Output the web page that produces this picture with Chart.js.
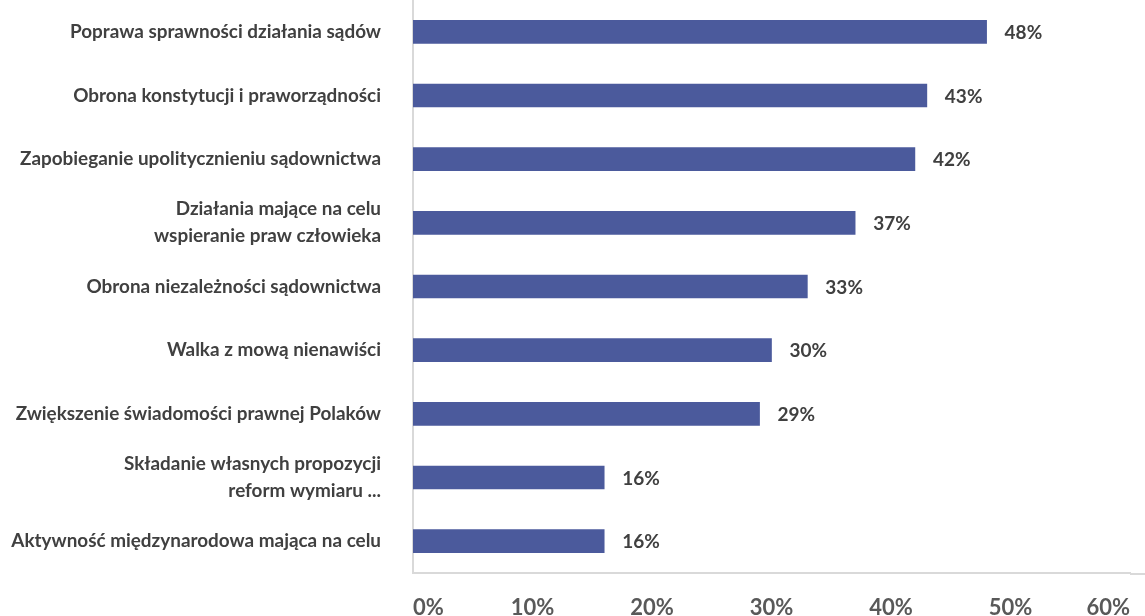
<!DOCTYPE html>
<html>
<head>
<meta charset="utf-8">
<script src="https://cdn.jsdelivr.net/npm/chart.js@4.4.1/dist/chart.umd.min.js"></script>
<style>
  html, body { margin: 0; padding: 0; background: #fff; }
  #wrap { width: 1145px; height: 616px; position: relative; }
</style>
</head>
<body>
<div id="wrap"><canvas id="chart"></canvas></div>
<script>
const categories = [
  "Poprawa sprawności działania sądów",
  "Obrona konstytucji i praworządności",
  "Zapobieganie upolitycznieniu sądownictwa",
  ["Działania mające na celu", "wspieranie praw człowieka"],
  "Obrona niezależności sądownictwa",
  "Walka z mową nienawiści",
  "Zwiększenie świadomości prawnej Polaków",
  ["Składanie własnych propozycji", "reform wymiaru ..."],
  "Aktywność międzynarodowa mająca na celu"
];
const values = [48, 43, 42, 37, 33, 30, 29, 16, 16];
const xTicks = [0, 10, 20, 30, 40, 50, 60];

const barColor = "#4b5a9c";

// value labels at the end of each bar, and the bottom line run out to the edge
const valueLabels = {
  id: "valueLabels",
  afterDatasetsDraw(chart) {
    const ctx = chart.ctx;
    const meta = chart.getDatasetMeta(0);
    ctx.save();
    ctx.font = "bold 19px Lato";
    ctx.fillStyle = "#404040";
    ctx.textAlign = "left";
    ctx.textBaseline = "middle";
    meta.data.forEach((bar, i) => {
      ctx.fillText(values[i] + "%", bar.x + 18, bar.y + 1);
    });
    const y = chart.scales.x.top + 1;
    ctx.strokeStyle = "#d9d9d9";
    ctx.lineWidth = 2;
    ctx.beginPath();
    ctx.moveTo(chart.chartArea.right, y);
    ctx.lineTo(chart.width, y);
    ctx.stroke();
    ctx.restore();
  }
};

new Chart(document.getElementById("chart").getContext("2d"), {
  type: "bar",
  data: {
    labels: categories,
    datasets: [{
      data: values,
      backgroundColor: barColor,
      barThickness: 23
    }]
  },
  options: {
    indexAxis: "y",
    responsive: true,
    maintainAspectRatio: false,
    animation: false,
    layout: { padding: { top: 0, right: 15, bottom: 0, left: 0 } },
    plugins: {
      legend: { display: false },
      tooltip: { enabled: false }
    },
    scales: {
      x: {
        min: 0,
        max: 60,
        afterBuildTicks(axis) {
          axis.ticks = xTicks.map(v => ({ value: v }));
        },
        afterFit(axis) {
          axis.height = 43;
          axis.paddingLeft = 0;
          axis.paddingRight = 0;
        },
        grid: { display: false, drawTicks: false },
        border: { display: true, color: "#d9d9d9", width: 2 },
        ticks: {
          align: "inner",
          padding: 22,
          color: "#595959",
          font: { family: "Lato", weight: "bold", size: 22 },
          callback: v => v + "%"
        }
      },
      y: {
        afterFit(axis) {
          axis.width = 413;
          axis.paddingTop = 0;
          axis.paddingBottom = 0;
        },
        grid: { display: false, drawTicks: false },
        border: { display: true, color: "#d9d9d9", width: 2 },
        ticks: {
          padding: 32,
          color: "#404040",
          font: { family: "Lato", weight: "bold", size: 18.9, lineHeight: 1.43 }
        }
      }
    }
  },
  plugins: [valueLabels]
});
</script>
</body>
</html>
